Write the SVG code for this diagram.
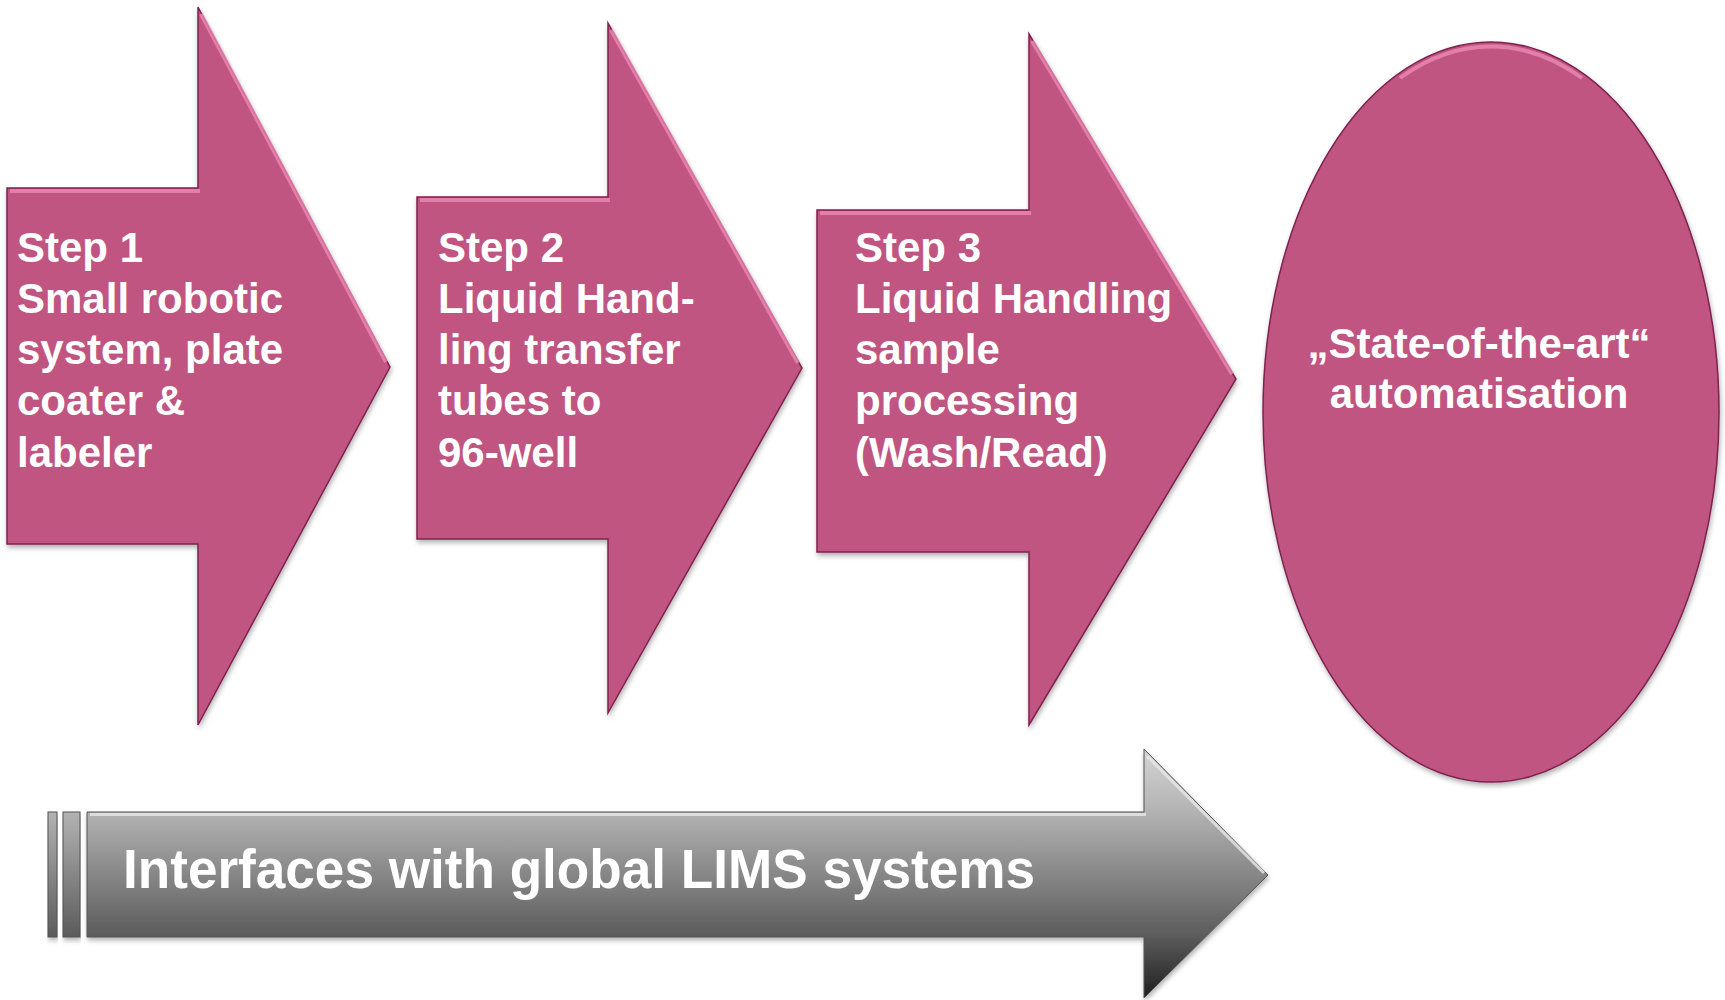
<svg xmlns="http://www.w3.org/2000/svg" width="1725" height="1000" viewBox="0 0 1725 1000">
  <defs>
    <style>
      .pink { fill: #BF5480; stroke: #7E2150; stroke-width: 1.5; }
      .hl { fill: none; stroke: #F08DB8; stroke-width: 4; stroke-linejoin: miter; opacity: 0.75; }
      .lbl { font-family: "Liberation Sans", Arial, sans-serif; font-weight: bold; font-size: 42px; fill: #FFFFFF; }
      .gray { fill: url(#grayGrad); stroke: #555555; stroke-width: 1; }
      .grayhl { fill: none; stroke: #E8E8E8; stroke-width: 3; opacity: 0.8; }
    </style>
    <linearGradient id="grayGrad" gradientUnits="userSpaceOnUse" x1="0" y1="749" x2="0" y2="998">
      <stop offset="0" stop-color="#D4D4D4"/>
      <stop offset="0.25" stop-color="#B3B3B3"/>
      <stop offset="0.75" stop-color="#5C5C5C"/>
      <stop offset="1" stop-color="#1E1E1E"/>
    </linearGradient>
    <filter id="shadow" x="-5%" y="-5%" width="110%" height="115%">
      <feDropShadow dx="1" dy="3" stdDeviation="2.5" flood-color="#000000" flood-opacity="0.3"/>
    </filter>
  </defs>

  <g id="step1">
    <path class="pink" filter="url(#shadow)" d="M7,188 H198 V7 L390,367 L198,725 V544 H7 Z"/>
    <path class="hl" d="M10,191 H200 M201,14 L386,362"/>
    <text class="lbl" x="17" y="262">Step 1</text>
    <text class="lbl" x="17" y="313">Small robotic</text>
    <text class="lbl" x="17" y="364">system, plate</text>
    <text class="lbl" x="17" y="415">coater &amp;</text>
    <text class="lbl" x="17" y="467">labeler</text>
  </g>

  <g id="step2">
    <path class="pink" filter="url(#shadow)" d="M417,197 H608 V23 L802,368 L608,713 V539 H417 Z"/>
    <path class="hl" d="M420,200 H610 M611,30 L798,363"/>
    <text class="lbl" x="438" y="262">Step 2</text>
    <text class="lbl" x="438" y="313">Liquid Hand-</text>
    <text class="lbl" x="438" y="364">ling transfer</text>
    <text class="lbl" x="438" y="415">tubes to</text>
    <text class="lbl" x="438" y="467">96-well</text>
  </g>

  <g id="step3">
    <path class="pink" filter="url(#shadow)" d="M817,210 H1029 V34 L1236,379 L1029,725 V552 H817 Z"/>
    <path class="hl" d="M820,213 H1031 M1032,41 L1232,374"/>
    <text class="lbl" x="855" y="262">Step 3</text>
    <text class="lbl" x="855" y="313">Liquid Handling</text>
    <text class="lbl" x="855" y="364">sample</text>
    <text class="lbl" x="855" y="415">processing</text>
    <text class="lbl" x="855" y="467">(Wash/Read)</text>
  </g>

  <g id="automation">
    <ellipse class="pink" filter="url(#shadow)" cx="1491" cy="412" rx="228" ry="370"/>
    <path class="hl" d="M1400,78 A224,366 0 0 1 1582,78" opacity="0.5"/>
    <text class="lbl" x="1479" y="358" text-anchor="middle">„State-of-the-art“</text>
    <text class="lbl" x="1479" y="408" text-anchor="middle">automatisation</text>
  </g>

  <g id="lims">
    <rect class="gray" filter="url(#shadow)" x="48" y="812" width="9" height="125"/>
    <rect class="gray" filter="url(#shadow)" x="63" y="812" width="17" height="125"/>
    <path class="gray" filter="url(#shadow)" d="M87,812 H1144 V749 L1268,875 L1144,998 V937 H87 Z"/>
    <path class="grayhl" d="M90,814.5 H1146 M1147,756 L1264,873"/>
    <text x="123" y="888" font-family="'Liberation Sans', Arial, sans-serif" font-weight="bold" font-size="55" fill="#FFFFFF" textLength="912" lengthAdjust="spacingAndGlyphs">Interfaces with global LIMS systems</text>
  </g>

  <g id="connectors"/>
</svg>
